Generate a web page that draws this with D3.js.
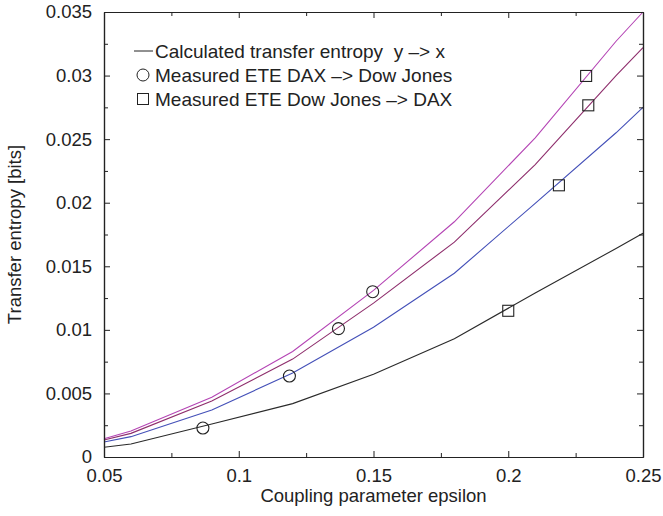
<!DOCTYPE html>
<html><head><meta charset="utf-8">
<script src="https://cdn.jsdelivr.net/npm/d3@7"></script>
<style>
body{margin:0;background:#fff;}
text{font-family:"Liberation Sans",Arial,sans-serif;fill:#222;}
</style></head><body>
<svg id="c" width="663" height="516"></svg>
<script>
const epsilon = [0.05, 0.06, 0.09, 0.12, 0.15, 0.18, 0.21, 0.24, 0.25];
const calcBlack   = [0.00077, 0.00102, 0.0026, 0.0042, 0.0065, 0.0093, 0.0129, 0.0164, 0.0176];
const calcBlue    = [0.00118, 0.0016, 0.0037, 0.0066, 0.0102, 0.01445, 0.01995, 0.0255, 0.0275];
const calcPurple  = [0.00134, 0.00186, 0.0044, 0.0077, 0.0121, 0.0169, 0.0230, 0.0300, 0.0322];
const calcMagenta = [0.00144, 0.00204, 0.0047, 0.0083, 0.0131, 0.0185, 0.0251, 0.0327, 0.0350];
const daxToDowX = [0.0867, 0.1188, 0.137, 0.1497];
const daxToDowY = [0.00228, 0.00637, 0.0101, 0.0130];
const dowToDaxX = [0.2, 0.2188, 0.2297, 0.2289];
const dowToDaxY = [0.0115, 0.02137, 0.02766, 0.02997];
const xTicks = [0.05, 0.1, 0.15, 0.2, 0.25];
const xTickLabels = ["0.05", "0.1", "0.15", "0.2", "0.25"];
const yTicks = [0, 0.005, 0.01, 0.015, 0.02, 0.025, 0.03, 0.035];
const yTickLabels = ["0", "0.005", "0.01", "0.015", "0.02", "0.025", "0.03", "0.035"];
const legendLabels = ["Calculated transfer entropy  y \u2013> x", "Measured ETE DAX \u2013> Dow Jones", "Measured ETE Dow Jones \u2013> DAX"];

(function(){
const svg = d3.select("#c");
const m = {l:104, r:20, t:12, b:59};
const W = 663, H = 516;
const x = d3.scaleLinear().domain([0.05, 0.25]).range([m.l, W - m.r]);
const y = d3.scaleLinear().domain([0, 0.035]).range([H - m.b, m.t]);
const fs = 18.5;

const series = [
  {v: calcBlack, c: "#2a2a2a"},
  {v: calcBlue, c: "#4450b8"},
  {v: calcPurple, c: "#8e2e6c"},
  {v: calcMagenta, c: "#b444b4"}
];
const line = d3.line().x((d,i)=>x(epsilon[i])).y(d=>y(d));
series.forEach(s=>{
  svg.append("path").attr("d", line(s.v)).attr("fill","none").attr("stroke", s.c).attr("stroke-width",1.1);
});

const axCol = "#222";
const xMinor = [0.075, 0.125, 0.175, 0.225];
const yMinor = [0.0025, 0.0075, 0.0125, 0.0175, 0.0225, 0.0275, 0.0325];
const axB = d3.axisBottom(x).tickValues(xTicks).tickFormat((d,i)=>xTickLabels[i]).tickSizeInner(-6).tickSizeOuter(0).tickPadding(12);
svg.append("g").attr("transform",`translate(0,${H-m.b})`).call(axB);
const axL = d3.axisLeft(y).tickValues(yTicks).tickFormat((d,i)=>yTickLabels[i]).tickSizeInner(-6).tickSizeOuter(0).tickPadding(12);
svg.append("g").attr("transform",`translate(${m.l},0)`).call(axL);
const axT = d3.axisTop(x).tickValues(xTicks).tickFormat("").tickSizeInner(-6).tickSizeOuter(0);
svg.append("g").attr("transform",`translate(0,${m.t})`).call(axT);
const axR = d3.axisRight(y).tickValues(yTicks).tickFormat("").tickSizeInner(-6).tickSizeOuter(0);
svg.append("g").attr("transform",`translate(${W-m.r},0)`).call(axR);
svg.append("g").attr("transform",`translate(0,${H-m.b})`).call(d3.axisBottom(x).tickValues(xMinor).tickFormat("").tickSizeInner(-4).tickSizeOuter(0));
svg.append("g").attr("transform",`translate(0,${m.t})`).call(d3.axisTop(x).tickValues(xMinor).tickFormat("").tickSizeInner(-4).tickSizeOuter(0));
svg.append("g").attr("transform",`translate(${m.l},0)`).call(d3.axisLeft(y).tickValues(yMinor).tickFormat("").tickSizeInner(-4).tickSizeOuter(0));
svg.append("g").attr("transform",`translate(${W-m.r},0)`).call(d3.axisRight(y).tickValues(yMinor).tickFormat("").tickSizeInner(-4).tickSizeOuter(0));
svg.selectAll(".domain").attr("stroke",axCol).attr("stroke-width",1.2);
svg.selectAll(".tick line").attr("stroke",axCol).attr("stroke-width",1);
svg.selectAll(".tick text").attr("font-size",fs).attr("font-family","Liberation Sans, Arial, sans-serif").attr("fill","#222");

svg.selectAll(".circ").data(daxToDowX).enter().append("circle")
  .attr("cx",(d)=>x(d)).attr("cy",(d,i)=>y(daxToDowY[i])).attr("r",6)
  .attr("fill","none").attr("stroke","#222").attr("stroke-width",1.1);
svg.selectAll(".sq").data(dowToDaxX).enter().append("rect")
  .attr("x",(d)=>x(d)-5.5).attr("y",(d,i)=>y(dowToDaxY[i])-5.5).attr("width",11).attr("height",11)
  .attr("fill","none").attr("stroke","#222").attr("stroke-width",1.1);

const lg = svg.append("g");
const lx = 140, ly = [51, 75, 99];
lg.append("line").attr("x1",lx-6).attr("x2",lx+13).attr("y1",ly[0]).attr("y2",ly[0]).attr("stroke","#222").attr("stroke-width",1);
lg.append("circle").attr("cx",lx+3).attr("cy",ly[1]).attr("r",6).attr("fill","none").attr("stroke","#222").attr("stroke-width",1);
lg.append("rect").attr("x",lx-2.5).attr("y",ly[2]-5.5).attr("width",11).attr("height",11).attr("fill","none").attr("stroke","#222").attr("stroke-width",1);
legendLabels.forEach((t,i)=>{
  lg.append("text").attr("x",lx+15).attr("y",ly[i]).attr("dy","0.36em").attr("font-size",19).style("white-space","pre").text(t);
});

svg.append("text").attr("x",(m.l + W - m.r)/2).attr("y",502).attr("text-anchor","middle").attr("font-size",fs).text("Coupling parameter epsilon");
svg.append("text").attr("transform",`translate(21,${(m.t + H - m.b)/2}) rotate(-90)`).attr("text-anchor","middle").attr("font-size",fs).text("Transfer entropy [bits]");
})();
</script></body></html>
